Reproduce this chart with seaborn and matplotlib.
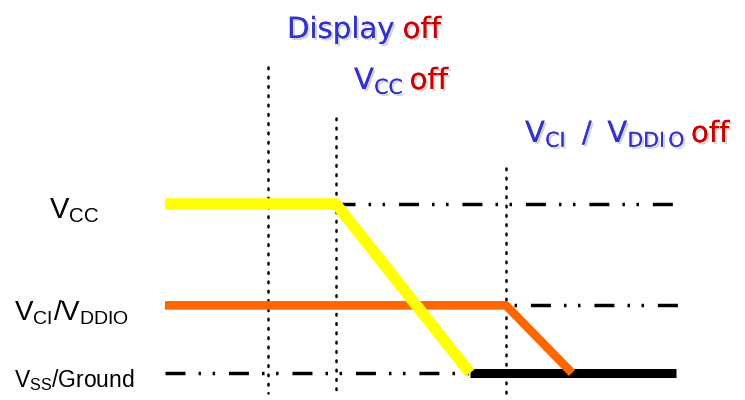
import matplotlib
matplotlib.use("Agg")
import matplotlib.pyplot as plt
import matplotlib.patheffects as pe
import seaborn as sns
import pandas as pd

sns.set_style("white")
plt.rcParams['font.family'] = ['DejaVu Sans']
plt.rcParams['lines.scale_dashes'] = False

# ---- data (time axis in arbitrary units, levels normalised: VCC=1, VCI=0.4, GND=0)
event_names = ["Display off", "VCC off", "VCI/VDDIO off"]
event_times = [268, 336, 506]
event_tops = [1.81, 1.51, 1.21]

vcc_t = [165, 336, 470]
vcc_v = [1.0, 1.0, 0.0]
vci_t = [165, 506, 572]
vci_v = [0.4, 0.4, 0.0]
gnd_t = [470, 676]
gnd_v = [0.0, 0.0]

ref_vcc_t = [335, 674]
ref_vci_t = [506, 678]
ref_gnd_t = [165, 470]

YMIN, YMAX = -0.16, 2.207

fig = plt.figure(figsize=(7.45, 4.0), dpi=100)
ax = fig.add_axes([0, 0, 1, 1])
ax.set_xlim(0, 745)
ax.set_ylim(YMIN, YMAX)
ax.axis("off")

pattern = (14.4, 9.4, 1.8, 8.3, 1.8, 10.0)

# reference (dash-dot-dot) lines
for t, lvl, off in [(ref_vcc_t, 1.0, 0), (ref_vci_t, 0.4, 28.1), (ref_gnd_t, 0.0, 0)]:
    ax.plot(t, [lvl, lvl], color="black", lw=2.5, linestyle=(off, pattern),
            dash_capstyle="butt", zorder=1)

# vertical dotted event lines
for t, top in zip(event_times, event_tops):
    ax.plot([t, t], [top, -0.12], color="black", lw=1.8,
            linestyle=(0, (1.2, 5.5)), dash_capstyle="round", zorder=1)

# signal lines via seaborn
sns.lineplot(data=pd.DataFrame({"t": gnd_t, "v": gnd_v}), x="t", y="v", ax=ax,
             color="black", linewidth=6.5, solid_capstyle="butt", zorder=2, sort=False)
sns.lineplot(data=pd.DataFrame({"t": vci_t, "v": vci_v}), x="t", y="v", ax=ax,
             color="#FF6600", linewidth=6.2, solid_capstyle="butt", zorder=3, sort=False)
sns.lineplot(data=pd.DataFrame({"t": vcc_t, "v": vcc_v}), x="t", y="v", ax=ax,
             color="#FFFF00", linewidth=8.2, solid_capstyle="butt", zorder=4, sort=False)
ax.set_xlim(0, 745)
ax.set_ylim(YMIN, YMAX)
ax.set_xlabel("")
ax.set_ylabel("")

# ---- text
BLUE = "#3333CC"
RED = "#CC0000"
shadow = [pe.withSimplePatchShadow(offset=(1.5, -1.5), shadow_rgbFace="#aaaaaa", alpha=0.5), pe.Normal()]

fig.canvas.draw()
renderer = fig.canvas.get_renderer()

def two_color(x, y, blue_txt, red_txt, size, gap=6):
    t1 = fig.text(x / 745, 1 - y / 400, blue_txt, color=BLUE, fontsize=size,
                  va="baseline", ha="left", path_effects=shadow)
    bb = t1.get_window_extent(renderer)
    fig.text((bb.x1 + gap) / 745, 1 - y / 400, red_txt, color=RED, fontsize=size,
             va="baseline", ha="left", path_effects=shadow)

two_color(287, 38, "Display", "off", 21, gap=8)
two_color(354, 89, r"V$_{\mathregular{CC}}$", "off", 21, gap=6)
two_color(525, 142, r"V$_{\mathregular{CI}}$ $\:$/ $\:$V$_{\mathregular{DDI\,O}}$", "off", 21, gap=6)

lab = ["Liberation Sans Narrow", "Liberation Sans", "DejaVu Sans"]
fig.text(49 / 745, 1 - 218 / 400, r"V$_{\mathregular{CC}}$", fontsize=21, family=lab,
         va="baseline", ha="left", color="black")
fig.text(14 / 745, 1 - 320 / 400, r"V$_{\mathregular{CI}}$/V$_{\mathregular{DDIO}}$", fontsize=20,
         family=lab, va="baseline", ha="left", color="black")
fig.text(14 / 745, 1 - 387 / 400, r"V$_{\mathregular{SS}}$/Ground", fontsize=16.5, family=lab,
         va="baseline", ha="left", color="black")

fig.savefig("out.png", dpi=100)
